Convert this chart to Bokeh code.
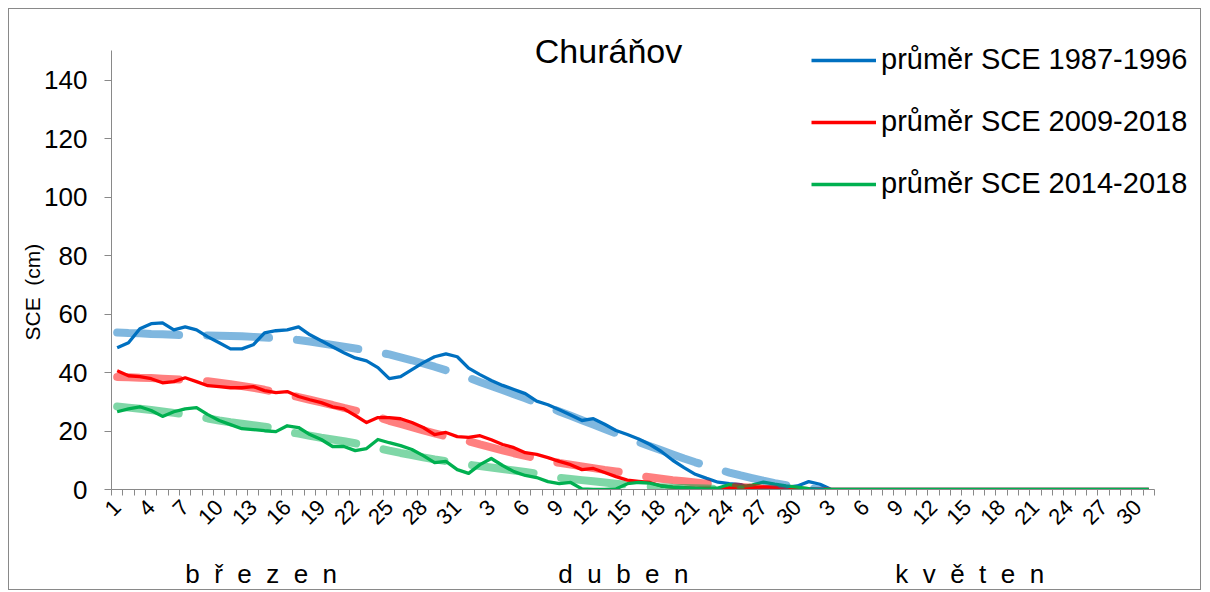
import math
from bokeh.plotting import figure
from bokeh.models import (ColumnDataSource, FixedTicker, Legend, LegendItem, Label,
                          Range1d, LinearAxis)
from bokeh.embed import file_html
from bokeh.resources import INLINE

# ---------------- data ----------------
chart_title = "Churáňov"
y_axis_title = "SCE\u00a0 (cm)"
month_names = ["b\u00a0 ř\u00a0 e\u00a0 z\u00a0 e\u00a0 n",
               "d\u00a0 u\u00a0 b\u00a0 e\u00a0 n",
               "k\u00a0 v\u00a0 ě\u00a0 t\u00a0 e\u00a0 n"]
month_lengths = [31, 30, 31]
y_ticks = [0, 20, 40, 60, 80, 100, 120, 140]
y_axis_max = 150
series_labels = ["průměr SCE 1987-1996", "průměr SCE 2009-2018", "průměr SCE 2014-2018"]

sce_1987_1996 = [48.5, 50.2, 55.0, 56.7, 57.0, 54.6, 55.6, 54.6, 52.2, 50.2,
                 48.1, 48.1, 49.5, 53.6, 54.3, 54.6, 55.6, 52.9, 50.9, 48.8,
                 46.8, 45.0, 44.0, 41.7, 37.9, 38.6, 41.0, 43.4, 45.4, 46.4,
                 45.4, 41.5, 39.3, 37.3, 35.6, 34.2, 32.8, 30.2, 29.0, 27.3,
                 25.5, 23.6, 24.2, 22.3, 20.2, 18.8, 17.3, 15.4, 13.0, 10.0,
                 7.5, 5.2, 3.8, 2.5, 2.0, 1.7, 0.2, 0.3, 0.6, 0.7,
                 1.2, 2.7, 1.8, 0.0, 0.0, 0.0, 0.0, 0.0, 0.0, 0.0,
                 0.0, 0.0, 0.0, 0.0, 0.0, 0.0, 0.0, 0.0, 0.0, 0.0,
                 0.0, 0.0, 0.0, 0.0, 0.0, 0.0, 0.0, 0.0, 0.0, 0.0,
                 0.0, 0.0]

sce_2009_2018 = [40.6, 38.9, 38.6, 37.9, 36.5, 36.9, 38.2, 36.9, 35.5, 35.2,
                 34.8, 34.8, 35.2, 33.8, 33.1, 33.5, 31.8, 30.7, 29.7, 28.3,
                 27.6, 25.3, 22.9, 24.6, 24.6, 24.2, 22.9, 21.2, 18.8, 19.5,
                 18.1, 17.8, 18.4, 17.0, 15.4, 14.3, 12.6, 12.0, 10.9, 9.6,
                 8.5, 6.8, 7.2, 5.8, 4.4, 3.2, 2.8, 2.4, 1.2, 0.8,
                 0.6, 0.4, 0.3, 0.3, 0.6, 0.5, 0.7, 0.9, 0.8, 0.7,
                 0.5, 0.3, 0.2, 0.0, 0.0, 0.0, 0.0, 0.0, 0.0, 0.0,
                 0.0, 0.0, 0.0, 0.0, 0.0, 0.0, 0.0, 0.0, 0.0, 0.0,
                 0.0, 0.0, 0.0, 0.0, 0.0, 0.0, 0.0, 0.0, 0.0, 0.0,
                 0.0, 0.0]

sce_2014_2018 = [26.6, 27.6, 28.3, 27.0, 25.0, 26.6, 27.6, 28.0, 25.6, 23.6,
                 22.2, 20.8, 20.5, 20.1, 19.8, 21.8, 21.2, 18.8, 17.1, 14.7,
                 14.7, 13.3, 14.0, 17.1, 16.0, 15.0, 13.7, 11.6, 9.2, 9.6,
                 6.8, 5.5, 8.5, 10.6, 8.2, 6.1, 4.8, 4.1, 2.7, 2.0,
                 2.4, 0.2, 0.0, 0.0, 0.2, 2.0, 2.4, 2.2, 1.2, 0.8,
                 0.6, 0.5, 0.5, 0.5, 1.7, 1.0, 1.5, 2.5, 1.8, 1.2,
                 0.8, 0.3, 0.0, 0.0, 0.0, 0.0, 0.0, 0.0, 0.0, 0.0,
                 0.0, 0.0, 0.0, 0.0, 0.0, 0.0, 0.0, 0.0, 0.0, 0.0,
                 0.0, 0.0, 0.0, 0.0, 0.0, 0.0, 0.0, 0.0, 0.0, 0.0,
                 0.0, 0.0]

# trend lines (until they reach zero)
trend_1987_1996 = [53.7, 53.5, 53.4, 53.2, 53.1, 52.9, 52.8, 52.8, 52.7, 52.6,
                   52.5, 52.4, 52.2, 52.0, 51.8, 51.6, 51.1, 50.6, 50.0, 49.4,
                   48.8, 48.2, 47.6, 47.0, 46.2, 45.2, 44.2, 43.1, 42.0, 40.8,
                   39.6, 38.2, 36.8, 35.4, 34.0, 32.6, 31.2, 29.7, 28.2, 26.7,
                   25.2, 23.7, 22.2, 20.7, 19.2, 17.7, 16.2, 14.8, 13.4, 12.0,
                   10.6, 9.3, 8.1, 6.9, 5.8, 4.8, 3.9, 3.0, 2.2, 1.5,
                   0.9, 0.4, 0.0]
trend_2009_2018 = [38.5, 38.4, 38.2, 38.1, 37.9, 37.7, 37.5, 37.3, 37.0, 36.5,
                   36.0, 35.4, 34.8, 34.1, 33.3, 32.5, 31.6, 30.7, 29.8, 28.9,
                   27.9, 27.0, 25.9, 24.8, 23.5, 22.4, 21.3, 20.2, 19.2, 18.2,
                   17.3, 16.5, 15.4, 14.4, 13.4, 12.4, 11.5, 10.6, 9.8, 9.1,
                   8.5, 7.9, 7.3, 6.7, 6.2, 5.6, 4.7, 4.2, 3.7, 3.2,
                   2.8, 2.4, 2.0, 1.6, 1.2, 0.9, 0.6, 0.3, 0.0]
trend_2014_2018 = [28.4, 28.0, 27.6, 27.2, 26.7, 26.2, 25.7, 25.1, 24.3, 23.6,
                   23.0, 22.5, 22.0, 21.5, 20.7, 19.7, 19.1, 18.4, 17.7, 17.1,
                   16.5, 15.8, 15.1, 14.2, 13.3, 12.5, 11.8, 11.0, 10.3, 9.7,
                   9.2, 8.5, 8.0, 7.5, 7.0, 6.5, 6.0, 5.4, 4.7, 4.0,
                   3.6, 3.2, 2.8, 2.4, 2.0, 1.6, 1.3, 1.0, 0.8, 0.6,
                   0.5, 0.4, 0.3, 0.2, 0.1, 0.0]

# ---------------- derived ----------------
day_numbers = [d for n in month_lengths for d in range(1, n + 1)]
x = list(range(len(day_numbers)))
n_days = len(day_numbers)

colors = ["#0070C0", "#FF0000", "#00B050"]
series = [sce_1987_1996, sce_2009_2018, sce_2014_2018]
trends = [trend_1987_1996, trend_2009_2018, trend_2014_2018]

FONT = "Liberation Sans"

# ---------------- layout geometry (pixels) ----------------
W, H = 1193, 582
B_LEFT, B_RIGHT, B_TOP, B_BOTTOM = 102, 4, 2, 101
frame_w = W - B_LEFT - B_RIGHT
frame_h = H - B_TOP - B_BOTTOM
x_axis_px = 1043.0   # drawn length of the category axis
y_axis_px = 439.5    # drawn length of the value axis (0..150)
x_end = -0.5 + frame_w * n_days / x_axis_px
y_end = y_axis_max * frame_h / y_axis_px
y_title_at = 67.5                        # value-axis position of the axis title centre
month_label_shift = [-2.3, -0.85, -0.8]  # label offset from the month centre (days)

p = figure(width=W, height=H, output_backend="svg", toolbar_location=None,
           title=None,
           x_range=Range1d(-0.5, x_end), y_range=Range1d(0, y_end),
           min_border_left=B_LEFT, min_border_right=B_RIGHT, min_border_top=B_TOP,
           min_border_bottom=B_BOTTOM,
           margin=(8, 0, 0, 8), styles={"border": "1px solid #898989"})
p.outline_line_color = None
p.xgrid.visible = False
p.ygrid.visible = False
p.background_fill_color = "white"
p.border_fill_color = "white"

renderers = []
for vals, col in zip(series, colors):
    src = ColumnDataSource(dict(x=x, y=vals))
    r = p.line("x", "y", source=src, line_color=col, line_width=3.3, line_join="round")
    renderers.append(r)

for tv, col in zip(trends, colors):
    src = ColumnDataSource(dict(x=x[:len(tv)], y=tv))
    p.line("x", "y", source=src, line_color=col, line_alpha=0.5, line_width=8,
           line_dash="62 28", line_cap="round", line_join="round")

# y axis
p.yaxis.bounds = (0, y_axis_max)
p.yaxis.ticker = FixedTicker(ticks=y_ticks)
p.yaxis.axis_line_color = "#898989"
p.yaxis.major_tick_line_color = "#898989"
p.yaxis.major_tick_out = 7
p.yaxis.major_tick_in = 0
p.yaxis.minor_tick_line_color = None
p.yaxis.major_label_text_font = FONT
p.yaxis.major_label_text_font_size = "26px"
p.yaxis.major_label_text_color = "black"
p.yaxis.major_label_standoff = 17

# y axis title (as a rotated label of an outer axis)
title_axis = LinearAxis(ticker=FixedTicker(ticks=[y_title_at], minor_ticks=[]),
                        major_label_overrides={y_title_at: y_axis_title})
title_axis.axis_line_color = None
title_axis.major_tick_line_color = None
title_axis.minor_tick_line_color = None
title_axis.major_tick_out = 0
title_axis.major_tick_in = 0
title_axis.major_label_orientation = "vertical"
title_axis.major_label_text_font = FONT
title_axis.major_label_text_font_size = "21px"
title_axis.major_label_text_color = "black"
title_axis.major_label_standoff = -3
p.add_layout(title_axis, "left")

# x axis (days)
label_idx = [i for i in x if i % 3 == 0]
xa = p.xaxis[0]
xa.bounds = (-0.5, n_days - 0.5)
xa.ticker = FixedTicker(ticks=label_idx, minor_ticks=[i - 0.5 for i in range(n_days + 1)])
xa.major_label_overrides = {i: str(day_numbers[i]) for i in label_idx}
xa.axis_line_color = "#898989"
xa.major_tick_line_color = None
xa.minor_tick_line_color = "#898989"
xa.minor_tick_out = 6
xa.minor_tick_in = 0
xa.major_label_orientation = math.pi / 4
xa.major_label_text_font = FONT
xa.major_label_text_font_size = "22px"
xa.major_label_text_color = "black"
xa.major_label_standoff = 8

# month axis (second category level)
month_mids = []
start = 0
for length, shift in zip(month_lengths, month_label_shift):
    month_mids.append(start + (length - 1) / 2 + shift)
    start += length
month_axis = LinearAxis(ticker=FixedTicker(ticks=month_mids, minor_ticks=[]),
                        major_label_overrides={m: name for m, name in zip(month_mids, month_names)})
month_axis.axis_line_color = None
month_axis.major_tick_line_color = None
month_axis.minor_tick_line_color = None
month_axis.major_label_text_font = FONT
month_axis.major_label_text_font_size = "26px"
month_axis.major_label_text_color = "black"
month_axis.major_label_standoff = 18
p.add_layout(month_axis, "below")

# legend
legend = Legend(items=[LegendItem(label=lab, renderers=[r]) for lab, r in zip(series_labels, renderers)],
                location=(700, 289), orientation="vertical",
                glyph_width=65, glyph_height=32, label_height=32, spacing=29,
                padding=0, margin=0, label_standoff=5,
                label_text_font=FONT, label_text_font_size="29px", label_text_color="black",
                border_line_color=None, background_fill_alpha=0)
p.add_layout(legend, "center")

# chart title
p.add_layout(Label(x=497, y=439, x_units="screen", y_units="screen", text=chart_title,
                   text_font=FONT, text_font_size="34px", text_align="center",
                   text_baseline="middle", text_color="black"))

open("out.html", "w").write(file_html(p, INLINE))
